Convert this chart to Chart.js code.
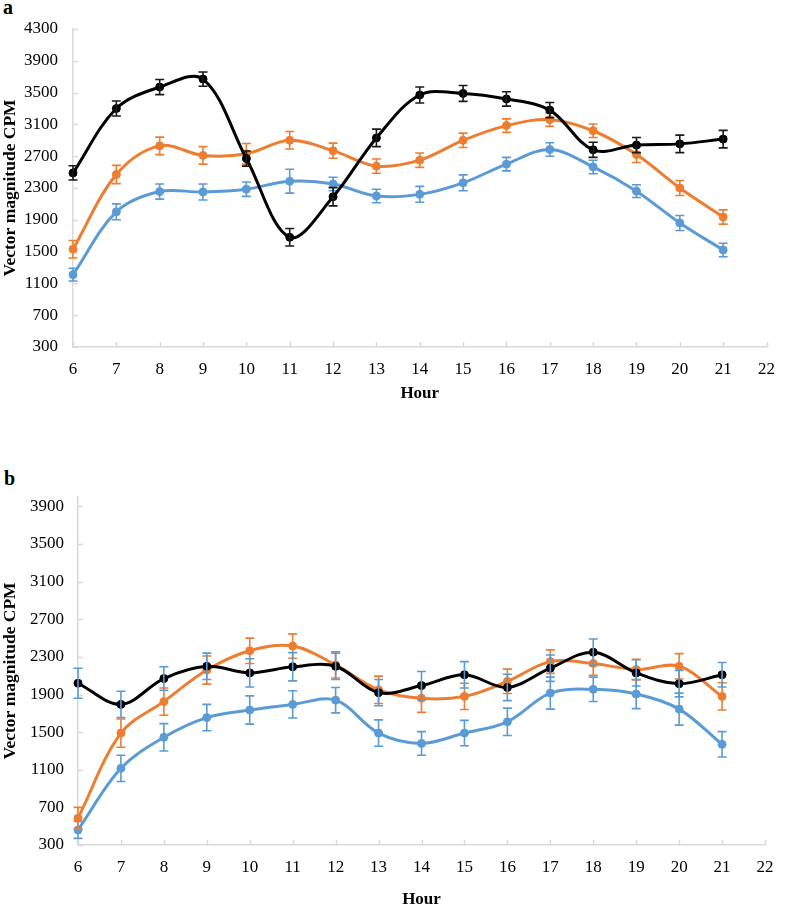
<!DOCTYPE html>
<html>
<head>
<meta charset="utf-8">
<script src="https://cdn.jsdelivr.net/npm/chart.js@4.4.1/dist/chart.umd.min.js"></script>
<style>
  html, body { margin: 0; padding: 0; background: #fff; }
  body { width: 787px; height: 908px; position: relative; overflow: hidden; }
  canvas { position: absolute; left: 0; }
  .panel { position: absolute; font-family: 'Liberation Serif', serif; font-weight: bold; font-size: 20px; line-height: 20px; color: #000; }
</style>
</head>
<body>
<div class="panel" style="left:3px; top:-3px;">a</div>
<div class="panel" style="left:4px; top:468px;">b</div>
<canvas id="chartA" width="787" height="450" style="top:0px;"></canvas>
<canvas id="chartB" width="787" height="458" style="top:450px;"></canvas>
<script>
// ---------- data ----------
const hours = [6, 7, 8, 9, 10, 11, 12, 13, 14, 15, 16, 17, 18, 19, 20, 21];
const xTicks = [6, 7, 8, 9, 10, 11, 12, 13, 14, 15, 16, 17, 18, 19, 20, 21, 22];
const aYTicks = [300, 700, 1100, 1500, 1900, 2300, 2700, 3100, 3500, 3900, 4300];
const bYTicks = [300, 700, 1100, 1500, 1900, 2300, 2700, 3100, 3500, 3900];

// Panel a
const aBlack     = [2490, 3300, 3570, 3670, 2670, 1680, 2190, 2930, 3470, 3490, 3420, 3280, 2780, 2840, 2855, 2915];
const aBlackErr  = [90, 95, 95, 90, 95, 110, 115, 110, 100, 100, 90, 95, 95, 95, 110, 110];
const aOrange    = [1530, 2470, 2830, 2710, 2730, 2900, 2770, 2575, 2650, 2900, 3085, 3160, 3020, 2720, 2300, 1935];
const aOrangeErr = [110, 115, 110, 110, 130, 110, 95, 90, 90, 90, 85, 85, 85, 100, 95, 90];
const aBlue      = [1210, 2000, 2255, 2250, 2285, 2385, 2350, 2200, 2220, 2365, 2600, 2785, 2565, 2260, 1860, 1520];
const aBlueErr   = [80, 100, 95, 100, 90, 150, 85, 85, 100, 100, 85, 85, 85, 80, 95, 85];

// Panel b
const bBlack     = [2020, 1795, 2070, 2200, 2130, 2195, 2200, 1920, 1995, 2110, 1975, 2180, 2350, 2130, 2015, 2110];
const bBlackErr  = [160, 140, 125, 140, 150, 150, 140, 140, 150, 140, 140, 140, 140, 140, 140, 130];
const bOrange    = [585, 1490, 1825, 2160, 2365, 2415, 2215, 1950, 1860, 1880, 2040, 2250, 2230, 2165, 2200, 1880];
const bOrangeErr = [115, 150, 145, 150, 135, 130, 140, 145, 150, 140, 130, 125, 125, 110, 135, 145];
const bBlue      = [460, 1115, 1445, 1655, 1735, 1795, 1840, 1490, 1380, 1490, 1610, 1915, 1955, 1905, 1745, 1370];
const bBlueErr   = [90, 140, 145, 140, 150, 145, 135, 140, 125, 135, 145, 170, 130, 155, 170, 135];

// ---------- styles ----------
const BLACK = '#000000', ORANGE = '#ED7D31', BLUE = '#5B9BD5', AXIS = '#D9D9D9';
const FONT = 'Liberation Serif';
Chart.defaults.font.family = FONT;
Chart.defaults.color = '#000';

function series(values, errs, color, errColor) {
  return {
    data: hours.map((h, i) => ({ x: h, y: values[i] })),
    errors: errs,
    errorColor: errColor,
    borderColor: color,
    backgroundColor: color,
    pointBackgroundColor: color,
    pointBorderColor: color,
    pointRadius: 4,
    pointBorderWidth: 1,
    borderWidth: 3,
    tension: 0.35,
    fill: false,
    clip: false
  };
}

const errorBarPlugin = {
  id: 'errorBars',
  afterDatasetDraw(chart, args) {
    const ds = chart.data.datasets[args.index];
    if (!ds.errors) return;
    const ctx = chart.ctx, ys = chart.scales.y;
    ctx.save();
    ctx.strokeStyle = ds.errorColor;
    ctx.lineWidth = 1.6;
    args.meta.data.forEach((pt, i) => {
      const v = ds.data[i].y, e = ds.errors[i];
      const t = ys.getPixelForValue(v + e), b = ys.getPixelForValue(v - e);
      const x = pt.x;
      ctx.beginPath();
      ctx.moveTo(x, t); ctx.lineTo(x, b);
      ctx.moveTo(x - 4.5, t); ctx.lineTo(x + 4.5, t);
      ctx.moveTo(x - 4.5, b); ctx.lineTo(x + 4.5, b);
      ctx.stroke();
    });
    ctx.restore();
  }
};

const innerTicksPlugin = {
  id: 'innerTicks',
  beforeDatasetsDraw(chart) {
    const ctx = chart.ctx, xs = chart.scales.x, ys = chart.scales.y, a = chart.chartArea;
    ctx.save();
    ctx.strokeStyle = AXIS;
    ctx.lineWidth = 1.5;
    ctx.beginPath();
    xs.ticks.forEach(t => {
      const px = Math.round(xs.getPixelForValue(t.value)) + 0.5;
      ctx.moveTo(px, a.bottom); ctx.lineTo(px, a.bottom - 5);
    });
    ys.ticks.forEach(t => {
      const py = Math.round(ys.getPixelForValue(t.value)) + 0.5;
      ctx.moveTo(a.left, py); ctx.lineTo(a.left + 5, py);
    });
    ctx.stroke();
    ctx.restore();
  }
};

function makeChart(id, datasets, yMax, yTicks, cfg) {
  return new Chart(document.getElementById(id), {
    type: 'line',
    data: { datasets },
    plugins: [innerTicksPlugin, errorBarPlugin],
    options: {
      responsive: false,
      animation: false,
      devicePixelRatio: 1,
      layout: { padding: cfg.padding },
      plugins: { legend: { display: false }, tooltip: { enabled: false } },
      scales: {
        x: {
          type: 'linear', min: 6, max: 22, offset: false,
          afterBuildTicks: s => { s.ticks = xTicks.map(v => ({ value: v })); },
          afterFit: s => { s.height = cfg.xHeight; },
          grid: { display: false, drawTicks: false },
          border: { display: true, color: AXIS, width: 1.5 },
          ticks: { font: { size: 17, family: FONT }, color: '#000', padding: cfg.xPad, maxRotation: 0, autoSkip: false, callback: v => String(v) },
          title: { display: true, text: 'Hour', font: { size: 17, weight: 'bold', family: FONT, lineHeight: 1 }, color: '#000', padding: 0 }
        },
        y: {
          type: 'linear', min: 300, max: yMax,
          afterBuildTicks: s => { s.ticks = yTicks.map(v => ({ value: v })); },
          afterFit: s => { s.width = cfg.yWidth; },
          grid: { display: false, drawTicks: false },
          border: { display: true, color: AXIS, width: 1.5 },
          ticks: { font: { size: 17, family: FONT }, color: '#000', padding: cfg.yPad, autoSkip: false, callback: v => String(v) },
          title: { display: true, text: 'Vector magnitude CPM', font: { size: 17.5, weight: 'bold', family: FONT, lineHeight: 1 }, color: '#000', padding: { top: 2, bottom: 0 } }
        }
      }
    }
  });
}

makeChart('chartA', [
  series(aBlack, aBlackErr, BLACK, '#1a1a1a'),
  series(aOrange, aOrangeErr, ORANGE, ORANGE),
  series(aBlue, aBlueErr, BLUE, BLUE)
], 4300, aYTicks, { padding: { left: 0, right: 12, top: 29, bottom: 48 }, xHeight: 55, yWidth: 73, xPad: 12, yPad: 15 });

makeChart('chartB', [
  series(bBlack, bBlackErr, BLACK, BLUE),
  series(bOrange, bOrangeErr, ORANGE, ORANGE),
  series(bBlue, bBlueErr, BLUE, BLUE)
], 4000, bYTicks, { padding: { left: 0, right: 22, top: 47, bottom: 0 }, xHeight: 63, yWidth: 78, xPad: 12, yPad: 14 });
</script>
</body>
</html>
